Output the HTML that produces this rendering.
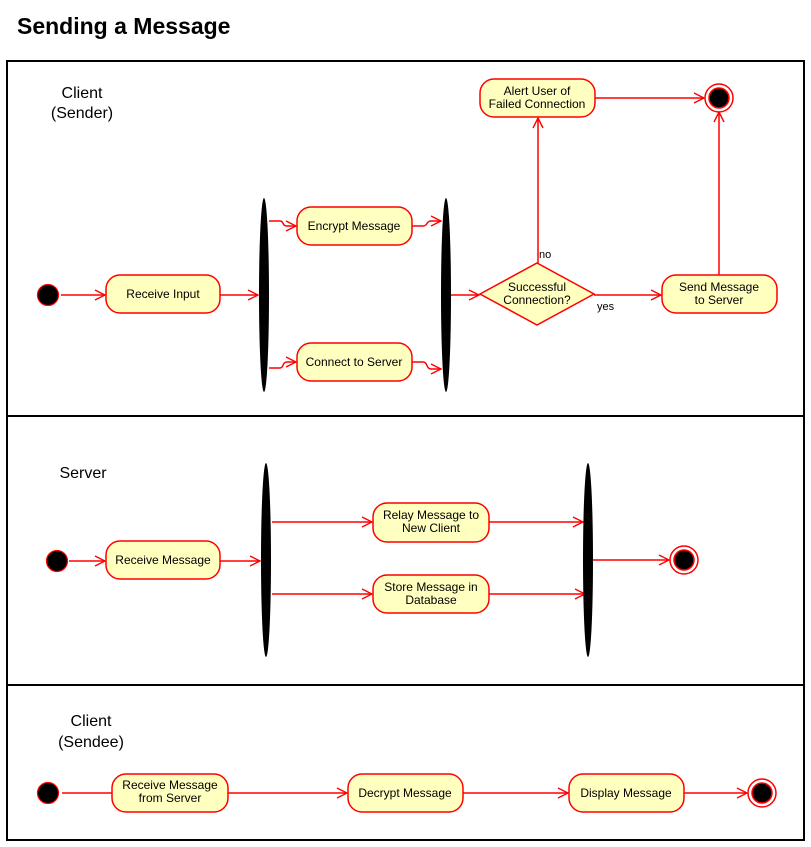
<!DOCTYPE html>
<html><head><meta charset="utf-8"><style>
html,body{margin:0;padding:0;background:#fff;}
svg{display:block;font-family:"Liberation Sans",Arial,sans-serif;}
</style></head><body>
<svg width="811" height="847" viewBox="0 0 811 847" xmlns="http://www.w3.org/2000/svg">
<defs>
<marker id="a" markerWidth="12" markerHeight="12" refX="11" refY="6" orient="auto" markerUnits="userSpaceOnUse">
<path d="M1,1 L11,6 L1,11" fill="none" stroke="#f00" stroke-width="1.4"/>
</marker>
</defs>
<text x="17" y="34" font-size="23" font-weight="bold">Sending a Message</text>
<rect x="7" y="61" width="797" height="779" fill="none" stroke="#000" stroke-width="2"/>
<line x1="7" y1="416" x2="804" y2="416" stroke="#000" stroke-width="2"/>
<line x1="7" y1="685" x2="804" y2="685" stroke="#000" stroke-width="2"/>

<g font-size="16" text-anchor="middle">
<text x="82" y="98">Client</text><text x="82" y="118">(Sender)</text>
<text x="83" y="478">Server</text>
<text x="91" y="726">Client</text><text x="91" y="747">(Sendee)</text>
</g>

<g stroke="#f00" stroke-width="1.5" fill="none">
<!-- client -->
<line x1="61" y1="295" x2="105" y2="295" marker-end="url(#a)"/>
<line x1="220" y1="295" x2="258" y2="295" marker-end="url(#a)"/>
<path d="M269,221 H280 C284,221 282,226 287,226 H296" marker-end="url(#a)"/>
<path d="M269,368 H280 C284,368 282,362 287,362 H296" marker-end="url(#a)"/>
<path d="M412,226 H423 C428,226 426,221 431,221 H441" marker-end="url(#a)"/>
<path d="M412,362 H423 C428,362 426,369 431,369 H441" marker-end="url(#a)"/>
<line x1="451" y1="295" x2="479" y2="295" marker-end="url(#a)"/>
<line x1="538" y1="263" x2="538" y2="118" marker-end="url(#a)"/>
<line x1="595" y1="98" x2="704" y2="98" marker-end="url(#a)"/>
<line x1="594" y1="295" x2="661" y2="295" marker-end="url(#a)"/>
<line x1="719" y1="275" x2="719" y2="112" marker-end="url(#a)"/>
<!-- server -->
<line x1="69" y1="561" x2="105" y2="561" marker-end="url(#a)"/>
<line x1="220" y1="561" x2="260" y2="561" marker-end="url(#a)"/>
<line x1="272" y1="522" x2="372" y2="522" marker-end="url(#a)"/>
<line x1="272" y1="594" x2="372" y2="594" marker-end="url(#a)"/>
<line x1="489" y1="522" x2="583" y2="522" marker-end="url(#a)"/>
<line x1="489" y1="594" x2="585" y2="594" marker-end="url(#a)"/>
<line x1="592" y1="560" x2="669" y2="560" marker-end="url(#a)"/>
<!-- sendee -->
<line x1="62" y1="793" x2="112" y2="793"/>
<line x1="228" y1="793" x2="347" y2="793" marker-end="url(#a)"/>
<line x1="463" y1="793" x2="568" y2="793" marker-end="url(#a)"/>
<line x1="684" y1="793" x2="747" y2="793" marker-end="url(#a)"/>
</g>

<g fill="#000">
<ellipse cx="264" cy="295" rx="5" ry="97"/>
<ellipse cx="446" cy="295" rx="5" ry="97"/>
<ellipse cx="266" cy="560" rx="5" ry="97"/>
<ellipse cx="588" cy="560" rx="5" ry="97"/>
</g>

<g fill="#000" stroke="#f00" stroke-width="1.2">
<circle cx="48" cy="295" r="10.5"/>
<circle cx="57" cy="561" r="10.5"/>
<circle cx="48" cy="793" r="10.5"/>
</g>
<g stroke="#f00" stroke-width="1.5">
<circle cx="719" cy="98" r="14" fill="#fff"/><circle cx="719" cy="98" r="10" fill="#000"/>
<circle cx="684" cy="560" r="14" fill="#fff"/><circle cx="684" cy="560" r="10" fill="#000"/>
<circle cx="762" cy="793" r="14" fill="#fff"/><circle cx="762" cy="793" r="10" fill="#000"/>
</g>

<g fill="#ffffc0" stroke="#f00" stroke-width="1.5">
<rect x="106" y="275" width="114" height="38" rx="14"/>
<rect x="297" y="207" width="115" height="38" rx="14"/>
<rect x="297" y="343" width="115" height="38" rx="14"/>
<rect x="480" y="79" width="115" height="38" rx="14"/>
<rect x="662" y="275" width="115" height="38" rx="14"/>
<polygon points="480,294 537,263 594,294 537,325"/>
<rect x="106" y="541" width="114" height="38" rx="14"/>
<rect x="373" y="503" width="116" height="39" rx="14"/>
<rect x="373" y="575" width="116" height="38" rx="14"/>
<rect x="112" y="774" width="116" height="38" rx="14"/>
<rect x="348" y="774" width="115" height="38" rx="14"/>
<rect x="569" y="774" width="115" height="38" rx="14"/>
</g>

<g font-size="12" text-anchor="middle" fill="#000">
<text x="163" y="298">Receive Input</text>
<text x="354" y="230">Encrypt Message</text>
<text x="354" y="366">Connect to Server</text>
<text x="537" y="95">Alert User of</text><text x="537" y="108">Failed Connection</text>
<text x="719" y="291">Send Message</text><text x="719" y="304">to Server</text>
<text x="537" y="291">Successful</text><text x="537" y="304">Connection?</text>
<text x="163" y="564">Receive Message</text>
<text x="431" y="519">Relay Message to</text><text x="431" y="532">New Client</text>
<text x="431" y="591">Store Message in</text><text x="431" y="604">Database</text>
<text x="170" y="789">Receive Message</text><text x="170" y="802">from Server</text>
<text x="405" y="797">Decrypt Message</text>
<text x="626" y="797">Display Message</text>
</g>
<g font-size="11" fill="#000">
<text x="539" y="258">no</text>
<text x="597" y="310">yes</text>
</g>
</svg>
</body></html>
